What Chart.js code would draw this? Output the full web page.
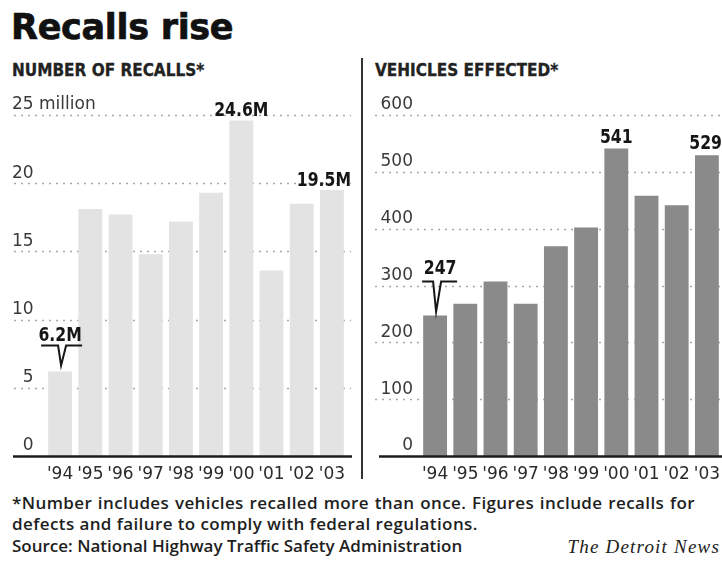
<!DOCTYPE html>
<html>
<head>
<meta charset="utf-8">
<script src="https://cdn.jsdelivr.net/npm/chart.js@4.4.1/dist/chart.umd.min.js"></script>
<style>
  html, body { margin: 0; padding: 0; background: #fff; }
  body { width: 722px; height: 561px; position: relative; overflow: hidden; color: #1a1a1a; }
  .abs { position: absolute; white-space: nowrap; }
  #title { left: 11px; top: 7px; font: bold 35px/40px "DejaVu Sans", sans-serif; color: #111; letter-spacing: -0.3px; -webkit-text-stroke: 0.7px #111; }
  .sub { top: 60px; font: bold 17px/20px "DejaVu Sans Condensed", "DejaVu Sans", sans-serif; color: #222; -webkit-text-stroke: 0.3px #222; }
  #divider { left: 361px; top: 58px; width: 1.5px; height: 421px; background: #333; }
  .note { left: 12px; font: 600 17px/20px "Open Sans", sans-serif; color: #1e1e1e; }
  #note1 { width: 683px; text-align: justify; text-align-last: justify; letter-spacing: 0.4px; }
  #note2 { letter-spacing: 0.4px; }
  #credit { right: 2px; top: 538px; font: italic 19px/18px "Liberation Serif", serif; letter-spacing: 1.2px; color: #222; }
  canvas { position: absolute; }
  #recallsChart { left: 0; top: 80px; }
  #vehiclesChart { left: 362px; top: 80px; }
</style>
</head>
<body>
<div id="title" class="abs">Recalls rise</div>
<div class="abs sub" style="left:12px">NUMBER OF RECALLS*</div>
<div class="abs sub" style="left:375px">VEHICLES EFFECTED*</div>
<div id="divider" class="abs"></div>
<canvas id="recallsChart" width="355" height="410"></canvas>
<canvas id="vehiclesChart" width="360" height="410"></canvas>
<div id="note1" class="abs note" style="top:493px">*Number includes vehicles recalled more than once. Figures include recalls for</div>
<div id="note2" class="abs note" style="top:514px">defects and failure to comply with federal regulations.</div>
<div class="abs note" style="top:536px">Source: National Highway Traffic Safety Administration</div>
<div id="credit" class="abs">The Detroit News</div>

<script>
// Model years
const years = ["'94", "'95", "'96", "'97", "'98", "'99", "'00", "'01", "'02", "'03"];

// Number of recalls, millions
const recalls = [6.2, 18.1, 17.7, 14.8, 17.2, 19.3, 24.6, 13.6, 18.5, 19.5];

// Vehicles affected
const vehicles = [247, 268, 307, 268, 369, 402, 541, 458, 441, 529];

// Axis ticks
const recallTicks = [0, 5, 10, 15, 20, 25];
const vehicleTicks = [0, 100, 200, 300, 400, 500, 600];
const recallUnit = 'million';

// Years whose values are printed above the bars; the first one gets a pointer
const recallsLabelled = ["'94", "'00", "'03"];
const vehiclesLabelled = ["'94", "'00", "'03"];

const TICK_FONT = { family: '"DejaVu Sans", sans-serif', size: 17 };
const TICK_COLOR = '#3a3a3a';
const LABEL_FONT = 'bold 20px "DejaVu Sans Condensed", "DejaVu Sans", sans-serif';
const LABEL_SQUEEZE = 0.87;

// Dotted guide lines, the heavy zero line and the unit word after the top tick
const guides = {
  id: 'guides',
  beforeDatasetsDraw(chart, args, o) {
    const y = chart.scales.y;
    const ctx = chart.ctx;
    ctx.save();
    ctx.strokeStyle = '#a8a8a8';
    ctx.lineWidth = 1.5;
    ctx.setLineDash([2, 5]);
    o.ticks.forEach(v => {
      if (v === 0) return;
      const py = Math.round(y.getPixelForValue(v)) + 0.5;
      ctx.beginPath();
      ctx.moveTo(o.from, py);
      ctx.lineTo(o.to, py);
      ctx.stroke();
    });
    ctx.restore();
  },
  afterDatasetsDraw(chart, args, o) {
    const y = chart.scales.y;
    const ctx = chart.ctx;
    const py = y.getPixelForValue(0) + 0.5;
    ctx.save();
    ctx.strokeStyle = '#1c1c1c';
    ctx.lineWidth = 2.5;
    ctx.beginPath();
    ctx.moveTo(o.baseFrom, py);
    ctx.lineTo(o.baseTo, py);
    ctx.stroke();
    ctx.restore();
  },
  afterDraw(chart, args, o) {
    if (!o.unit) return;
    const y = chart.scales.y;
    const ctx = chart.ctx;
    const top = o.ticks[o.ticks.length - 1];
    ctx.save();
    ctx.font = TICK_FONT.size + 'px ' + TICK_FONT.family;
    ctx.fillStyle = TICK_COLOR;
    ctx.textAlign = 'left';
    ctx.textBaseline = 'middle';
    const x = y.left + ctx.measureText(String(top) + ' ').width;
    ctx.fillText(o.unit, x, y.getPixelForValue(top) + o.labelOffset);
    ctx.restore();
  }
};

// Value labels above selected bars
const valueLabels = {
  id: 'valueLabels',
  afterDatasetsDraw(chart, args, o) {
    const ctx = chart.ctx;
    const meta = chart.getDatasetMeta(0);
    const data = chart.data.datasets[0].data;
    const put = (text, cx, by) => {
      ctx.save();
      ctx.translate(cx, by);
      ctx.scale(LABEL_SQUEEZE, 1);
      ctx.fillText(text, 0, 0);
      ctx.restore();
    };
    ctx.save();
    ctx.font = LABEL_FONT;
    ctx.fillStyle = '#161616';
    ctx.strokeStyle = '#161616';
    ctx.textBaseline = 'alphabetic';
    ctx.textAlign = 'center';
    o.years.forEach((yr, k) => {
      const i = chart.data.labels.indexOf(yr);
      const bar = meta.data[i];
      const text = o.format(data[i]);
      const w = ctx.measureText(text).width * LABEL_SQUEEZE;
      if (k === 0) {
        const c = o.callout;
        const ly = Math.round(bar.y - c.rise) + 0.5;
        ctx.lineWidth = 2;
        ctx.beginPath();
        ctx.moveTo(bar.x + c.left, ly);
        ctx.lineTo(bar.x - 2, ly);
        ctx.lineTo(bar.x + 1, bar.y - c.tipGap);
        ctx.lineTo(bar.x + 6, ly);
        ctx.lineTo(bar.x + c.right, ly);
        ctx.stroke();
        put(text, bar.x + c.textDx, ly - c.textGap);
      } else {
        const cx = Math.min(bar.x, o.rightLimit - w / 2);
        put(text, cx, bar.y - o.gap);
      }
    });
    ctx.restore();
  }
};

function makeChart(id, values, tickValues, cfg) {
  return new Chart(document.getElementById(id), {
    type: 'bar',
    data: {
      labels: years,
      datasets: [{
        data: values,
        backgroundColor: cfg.color,
        borderWidth: 0,
        categoryPercentage: 1,
        barPercentage: 0.79
      }]
    },
    plugins: [guides, valueLabels],
    options: {
      responsive: false,
      animation: false,
      events: [],
      layout: { padding: cfg.padding },
      plugins: {
        legend: { display: false },
        tooltip: { enabled: false },
        guides: cfg.guides,
        valueLabels: cfg.labels
      },
      scales: {
        x: {
          grid: { display: false },
          border: { display: false },
          ticks: { color: '#2a2a2a', font: TICK_FONT, padding: 0, maxRotation: 0, autoSkip: false },
          afterFit(s) { s.height = cfg.xHeight; }
        },
        y: {
          min: tickValues[0],
          max: tickValues[tickValues.length - 1],
          afterBuildTicks(s) { s.ticks = tickValues.map(v => ({ value: v })); },
          grid: { display: false, drawTicks: false },
          border: { display: false },
          ticks: {
            color: TICK_COLOR,
            font: TICK_FONT,
            crossAlign: cfg.crossAlign,
            padding: cfg.tickPad,
            labelOffset: -10,
            callback: cfg.tickText
          },
          afterFit(s) { s.width = cfg.yWidth; }
        }
      }
    }
  });
}

makeChart('recallsChart', recalls, recallTicks, {
  color: '#e3e3e3',
  padding: { left: 12, right: 8, top: 35, bottom: 0 },
  yWidth: 33,
  xHeight: 34,
  crossAlign: 'far',
  tickPad: 0,
  tickText: v => (v < 10 ? '\u2007' + v : String(v)),
  guides: { ticks: recallTicks, from: 14, to: 351, baseFrom: 13, baseTo: 352, unit: recallUnit, labelOffset: -10 },
  labels: {
    years: recallsLabelled,
    format: v => v.toFixed(1) + 'M',
    gap: 4,
    rightLimit: 351,
    callout: { rise: 26, left: -19, right: 22, tipGap: 6, textDx: 0, textGap: 5 }
  }
});

makeChart('vehiclesChart', vehicles, vehicleTicks, {
  color: '#8a8a8a',
  padding: { left: 13, right: 0, top: 35, bottom: 0 },
  yWidth: 45,
  xHeight: 34,
  crossAlign: 'near',
  tickPad: 7,
  tickText: v => String(v),
  guides: { ticks: vehicleTicks, from: 13, to: 360, baseFrom: 17, baseTo: 360 },
  labels: {
    years: vehiclesLabelled,
    format: v => String(v),
    gap: 6,
    rightLimit: 360,
    callout: { rise: 35, left: -13, right: 22, tipGap: 4, textDx: 5, textGap: 8 }
  }
});
</script>
</body>
</html>
